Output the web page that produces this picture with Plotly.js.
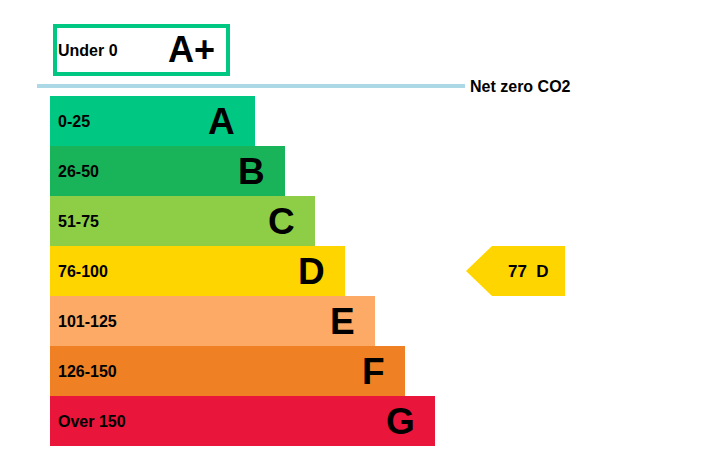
<!DOCTYPE html>
<html><head><meta charset="utf-8">
<script src="https://cdn.plot.ly/plotly-3.0.1.min.js"></script>
<style>html,body{margin:0;padding:0;background:#fff}</style>
</head><body><div id="chart" style="width:721px;height:470px"></div>
<script>
const bands = ["A","B","C","D","E","F","G"];
const ranges = ["0-25","26-50","51-75","76-100","101-125","126-150","Over 150"];
const barLengths = [205,235,265,295,325,355,385];
const colors = ["#00c781","#19b459","#8dce46","#ffd500","#fcaa65","#ef8023","#e9153b"];
const topBand = "A+";
const topRange = "Under 0";
const currentScore = 77;
const currentBand = "D";
const netZeroLabel = "Net zero CO2";

const x0 = 50, rowH = 50, firstRowY = 121;
const ys = bands.map((b,i)=>firstRowY + rowH*i);
const font = "Liberation Sans, Arial, sans-serif";

const trace = {
  type:"bar", orientation:"h",
  x: barLengths, base: bands.map(()=>x0), y: ys, width: bands.map(()=>rowH),
  marker:{color:colors, line:{width:0}},
  hoverinfo:"skip", showlegend:false
};

const annotations = [];
bands.forEach((b,i)=>{
  annotations.push({x:x0+6, y:ys[i], text:"<b>"+ranges[i]+"</b>", showarrow:false, xanchor:"left", yanchor:"middle", font:{family:font,size:16,color:"#000"}});
  annotations.push({x:x0+barLengths[i]-18, y:ys[i], text:"<b>"+b+"</b>", showarrow:false, xanchor:"right", yanchor:"middle", font:{family:font,size:37,color:"#000"}});
});
annotations.push({x:56, y:50, text:"<b>"+topRange+"</b>", showarrow:false, xanchor:"left", yanchor:"middle", font:{family:font,size:16,color:"#000"}});
annotations.push({x:217, y:49, text:"<b>"+topBand+"</b>", showarrow:false, xanchor:"right", yanchor:"middle", font:{family:font,size:36,color:"#000"}});
annotations.push({x:468, y:86, text:"<b>"+netZeroLabel+"</b>", showarrow:false, xanchor:"left", yanchor:"middle", font:{family:font,size:16,color:"#000"}});

const ci = bands.indexOf(currentBand);
const cy = ys[ci];
annotations.push({x:528, y:cy, text:"<b>"+currentScore+"&nbsp;&nbsp;"+currentBand+"</b>", showarrow:false, xanchor:"center", yanchor:"middle", font:{family:font,size:17,color:"#000"}});

const shapes = [
  {type:"rect", xref:"x", yref:"y", x0:55, x1:228, y0:26, y1:74, line:{color:"#00c781", width:4}, fillcolor:"rgba(0,0,0,0)"},
  {type:"line", xref:"x", yref:"y", x0:37, x1:465, y0:86, y1:86, line:{color:"#add8e6", width:4}},
  {type:"path", xref:"x", yref:"y", path:`M 466 ${cy} L 492 ${cy-rowH/2} L 565 ${cy-rowH/2} L 565 ${cy+rowH/2} L 492 ${cy+rowH/2} Z`, fillcolor:colors[ci], line:{width:0}}
];

const layout = {
  width:721, height:470, margin:{l:0,r:0,t:0,b:0},
  paper_bgcolor:"#fff", plot_bgcolor:"#fff",
  xaxis:{range:[0,721], visible:false, fixedrange:true},
  yaxis:{range:[470,0], visible:false, fixedrange:true},
  shapes, annotations, showlegend:false
};
Plotly.newPlot("chart",[trace],layout,{displayModeBar:false,staticPlot:true});
</script></body></html>
